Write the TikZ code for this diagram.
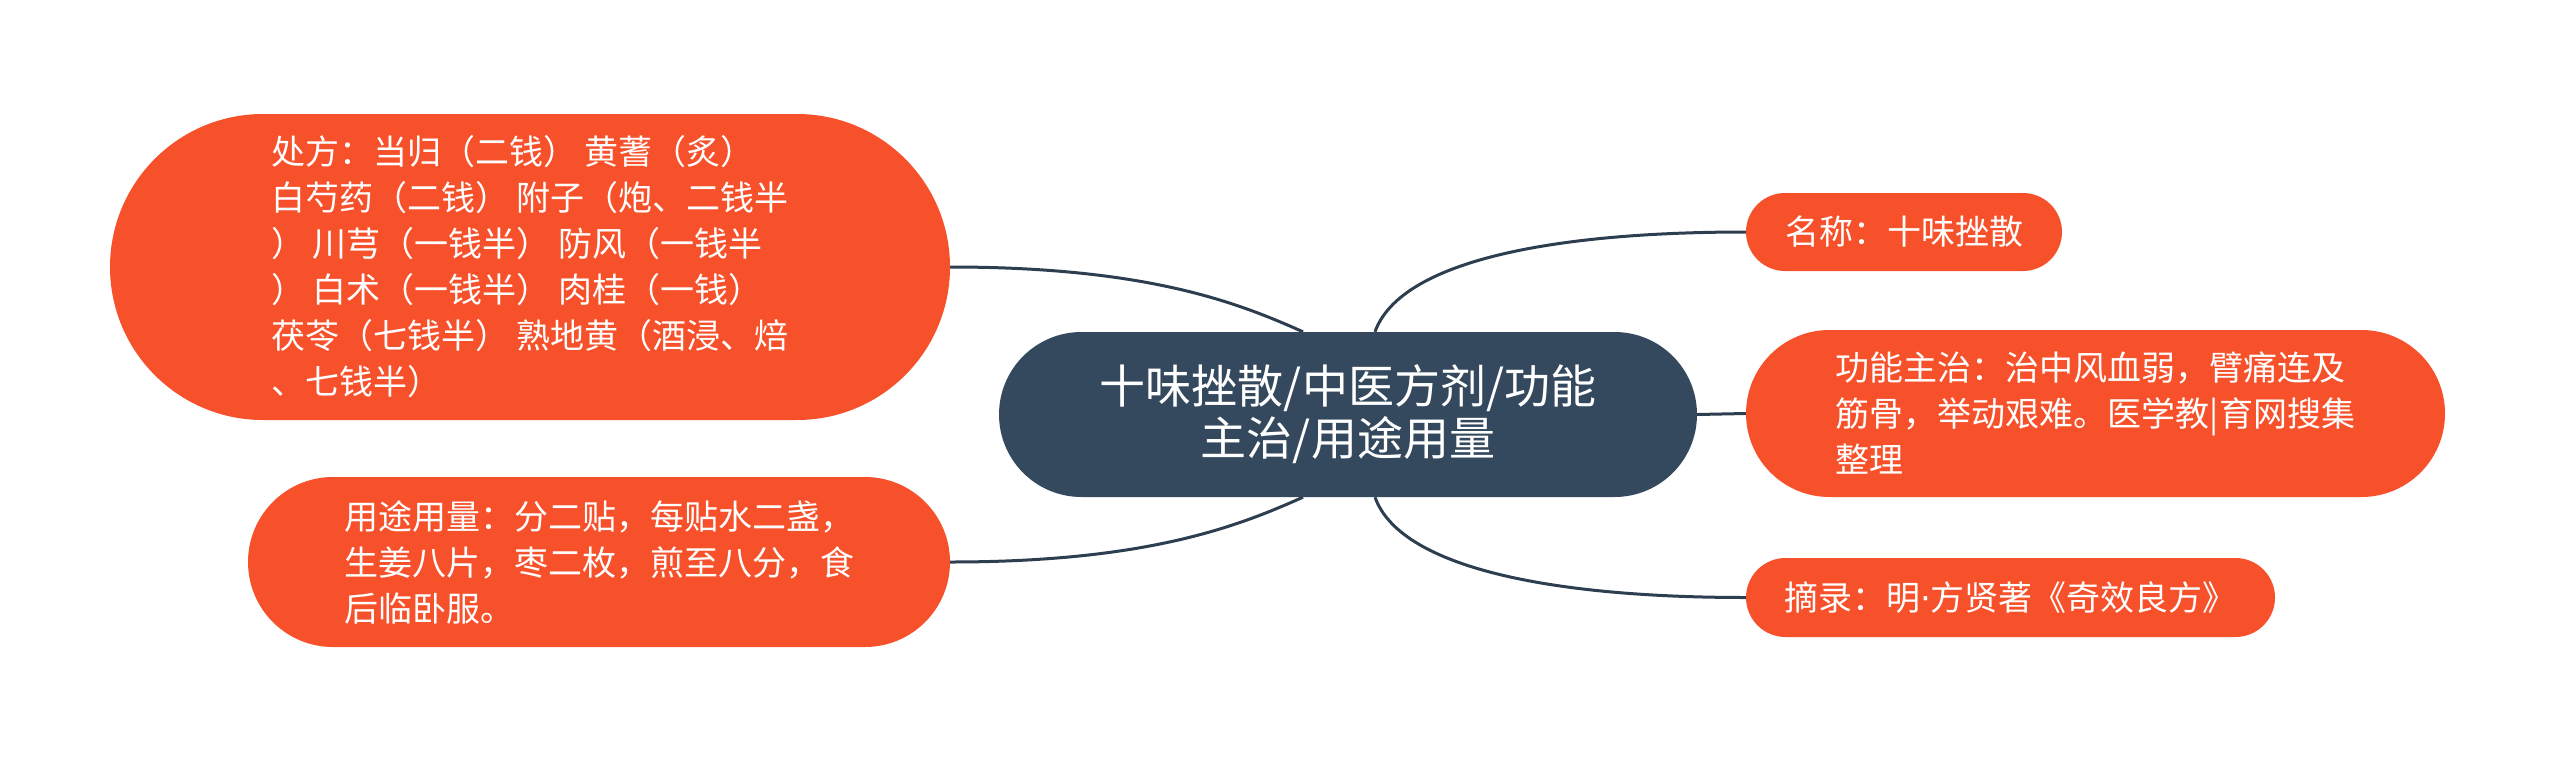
\documentclass[tikz,border=0pt]{standalone}
\usepackage{fontspec}
\setmainfont{Noto Sans CJK SC}
\newfontfamily\dotfont{DejaVu Sans}
\usetikzlibrary{backgrounds}
\definecolor{orangefill}{RGB}{247,81,43}
\definecolor{slate}{RGB}{53,73,94}
\definecolor{linecol}{RGB}{44,62,80}
\begin{document}
\begin{tikzpicture}[x=1pt,y=-1pt,
  leaf/.style={fill=orangefill, text=white, align=left, inner sep=0pt, font=\fontsize{34}{46}\selectfont},
  root/.style={fill=slate, text=white, align=center, inner sep=0pt, font=\fontsize{46}{52}\selectfont},
  link/.style={draw=linecol, line width=3pt}]
\useasboundingbox (0,0) rectangle (2560,761);

\node[root, minimum width=698pt, minimum height=165pt, rounded corners=82.5pt] (c) at (1348,414.5)
  {十味挫散/中医方剂/功能\\主治/用途用量};

\node[leaf, minimum width=840pt, minimum height=306pt, rounded corners=153pt] (l1) at (530,267)
  {处方：当归（二钱） 黄蓍（炙）\\白芍药（二钱） 附子（炮、二钱半\\） 川芎（一钱半） 防风（一钱半\\） 白术（一钱半） 肉桂（一钱）\\茯苓（七钱半） 熟地黄（酒浸、焙\\、七钱半）};

\node[leaf, minimum width=702pt, minimum height=170pt, rounded corners=85pt] (l2) at (599,562)
  {用途用量：分二贴，每贴水二盏，\\生姜八片，枣二枚，煎至八分，食\\后临卧服。};

\node[leaf, minimum width=316pt, minimum height=78pt, rounded corners=39pt] (r1) at (1904,232)
  {名称：十味挫散};

\node[leaf, minimum width=699pt, minimum height=167pt, rounded corners=83.5pt] (r2) at (2095.5,413.5)
  {功能主治：治中风血弱，臂痛连及\\筋骨，举动艰难。医学教|育网搜集\\整理};

\node[leaf, minimum width=529pt, minimum height=79pt, rounded corners=39.5pt] (r3) at (2010.5,597.5)
  {摘录：明{\dotfont ·}方贤著《奇效良方》};

\begin{scope}[on background layer]
\draw[link] ([xshift=-45pt]c.north) .. controls +(-63,-28) and +(200,0) .. (l1.east);
\draw[link] ([xshift=-45pt]c.south) .. controls +(-63,28) and +(200,0) .. (l2.east);
\draw[link] ([xshift=27pt]c.north) .. controls +(25,-70) and +(-197,0) .. (r1.west);
\draw[link] ([xshift=27pt]c.south) .. controls +(25,70) and +(-197,0) .. (r3.west);
\draw[link] (c.east) -- (r2.west);
\end{scope}
\end{tikzpicture}
\end{document}
